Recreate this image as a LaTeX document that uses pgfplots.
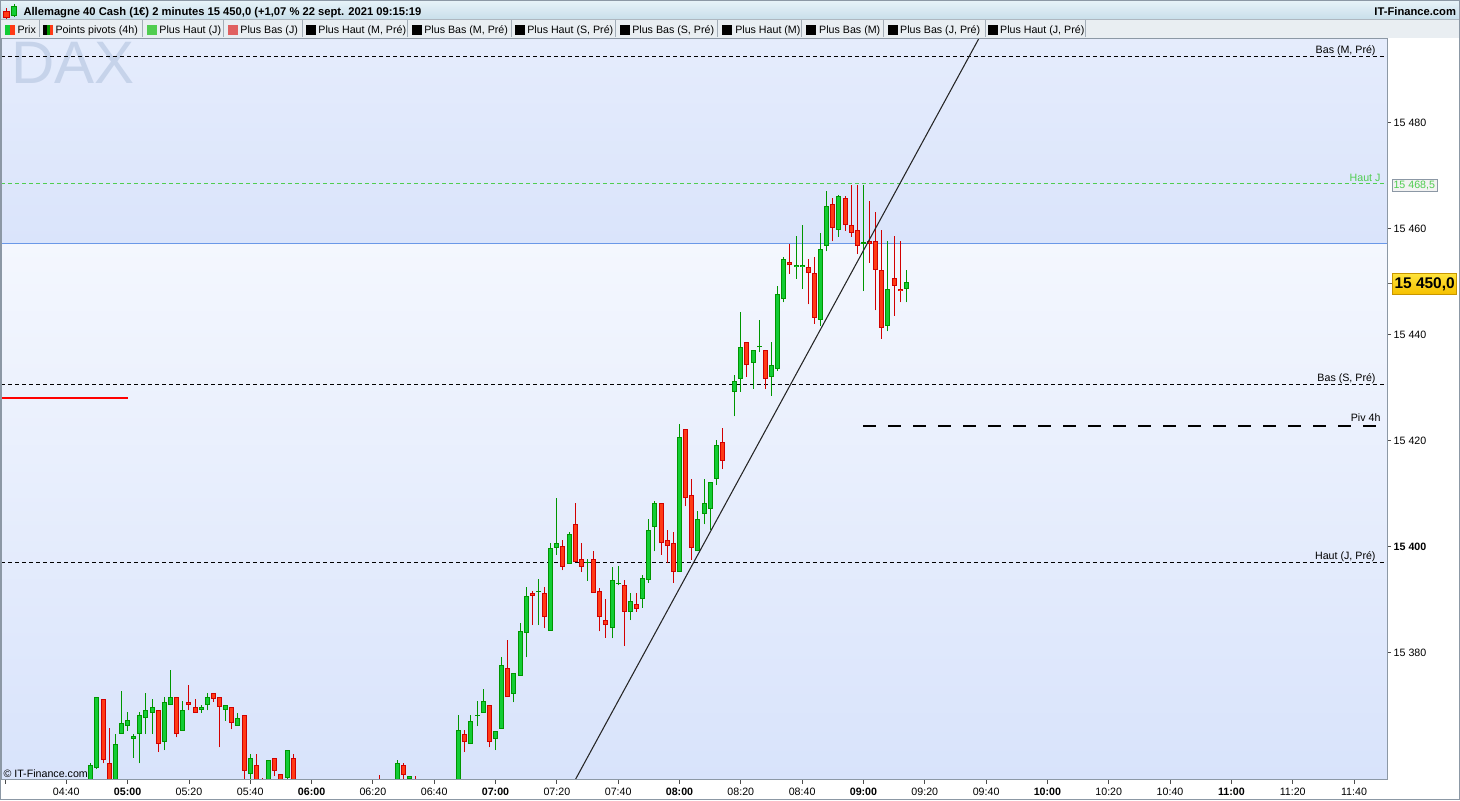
\documentclass[border=0pt]{standalone}
\usepackage{pgfplots}
\pgfplotsset{compat=1.18}
\usepackage{pgfplotstable}
\usepackage{fontspec}
\setmainfont{Liberation Sans}

\definecolor{upF}{RGB}{18,204,52}
\definecolor{upB}{RGB}{0,150,0}
\definecolor{dnF}{RGB}{255,58,22}
\definecolor{dnB}{RGB}{210,0,0}
\definecolor{hiA}{RGB}{229,236,252}
\definecolor{hiB}{RGB}{218,228,251}
\definecolor{loA}{RGB}{244,247,254}
\definecolor{loB}{RGB}{216,227,251}
\definecolor{blueLine}{RGB}{106,152,232}
\definecolor{hautJ}{RGB}{80,205,80}
\definecolor{basJ}{RGB}{224,96,96}
\definecolor{axGray}{RGB}{140,152,165}
\definecolor{hdrA}{RGB}{232,243,249}
\definecolor{hdrB}{RGB}{200,222,234}
\definecolor{lgBg}{RGB}{233,238,242}
\definecolor{dax}{RGB}{198,211,234}
\definecolor{tagA}{RGB}{255,228,60}
\definecolor{tagB}{RGB}{245,192,0}
\definecolor{tagD}{RGB}{200,150,0}

\newcommand\fs{\fontsize{8pt}{9.6pt}\selectfont}

% 2-minute candles, t = minutes after midnight
\pgfplotstableread{
t o h l c
288 15352.0 15359.2 15350.0 15358.7
290 15358.2 15371.7 15358.0 15371.7
296 15354.0 15364.7 15352.0 15362.8
298 15364.7 15372.8 15364.7 15366.7
300 15366.2 15368.7 15365.2 15367.2
302 15363.7 15364.7 15360.1 15364.2
304 15364.7 15368.7 15359.1 15368.2
306 15367.6 15372.3 15364.6 15369.2
308 15368.6 15371.3 15364.6 15369.8
312 15363.2 15371.7 15361.6 15370.7
314 15370.1 15376.8 15370.1 15371.7
318 15365.2 15370.8 15365.2 15369.2
324 15369.2 15370.1 15368.6 15369.8
326 15370.1 15372.3 15369.1 15371.7
332 15369.2 15370.1 15367.1 15370.1
336 15366.2 15368.6 15366.2 15367.7
340 15357.1 15360.8 15354.0 15360.1
346 15353.0 15359.8 15351.0 15359.8
352 15356.3 15361.6 15356.0 15361.6
388 15352.0 15359.8 15350.0 15359.2
392 15356.1 15356.7 15355.0 15356.7
408 15350.0 15368.3 15349.0 15365.3
412 15362.7 15368.3 15362.7 15367.1
414 15368.1 15370.8 15366.1 15368.3
416 15368.6 15373.2 15368.6 15370.8
420 15363.7 15365.2 15361.6 15365.2
422 15365.6 15379.2 15365.6 15377.7
426 15372.2 15376.2 15370.6 15376.2
428 15375.6 15385.6 15375.6 15384.1
430 15383.7 15392.3 15379.1 15390.7
434 15391.4 15393.8 15385.2 15391.6
438 15384.1 15400.7 15384.1 15399.8
440 15399.7 15409.2 15398.5 15400.7
444 15396.8 15402.8 15396.8 15402.3
450 15396.9 15397.7 15393.6 15397.1
458 15384.6 15396.2 15382.7 15393.7
460 15393.0 15396.3 15392.7 15393.2
464 15387.7 15391.3 15386.1 15389.8
468 15390.1 15394.7 15388.5 15394.1
470 15393.7 15405.3 15393.2 15403.2
472 15403.7 15408.7 15399.1 15408.2
480 15395.2 15423.2 15395.2 15420.7
486 15399.1 15406.8 15399.1 15405.2
488 15406.2 15412.8 15404.2 15408.2
490 15407.1 15412.2 15403.1 15412.2
492 15412.8 15420.1 15411.6 15419.2
498 15429.2 15432.3 15424.6 15431.3
500 15431.6 15444.3 15429.2 15437.7
504 15434.7 15437.1 15429.8 15437.1
506 15437.6 15442.8 15436.7 15437.8
510 15432.1 15438.6 15428.5 15434.3
512 15433.6 15449.1 15433.1 15447.7
514 15446.7 15454.7 15446.1 15454.3
518 15452.8 15458.6 15450.6 15453.2
520 15452.8 15460.7 15448.6 15453.2
526 15442.8 15459.2 15441.6 15456.2
528 15456.7 15467.1 15455.7 15464.3
532 15459.8 15466.4 15458.5 15466.2
540 15457.1 15468.3 15448.2 15457.4
548 15441.6 15457.7 15440.6 15448.7
554 15448.6 15452.3 15446.1 15450.0
}\up

\pgfplotstableread{
t o h l c
292 15371.3 15371.3 15359.1 15359.7
294 15359.2 15365.7 15352.0 15354.0
310 15369.2 15369.2 15361.2 15362.8
316 15371.7 15371.7 15364.0 15364.6
320 15370.7 15373.8 15369.1 15370.1
322 15369.8 15371.3 15368.6 15368.6
328 15372.3 15372.3 15370.7 15371.3
330 15371.7 15371.7 15362.1 15369.8
334 15369.8 15369.8 15365.5 15366.7
338 15368.2 15368.2 15355.0 15357.6
342 15358.7 15360.8 15351.0 15353.0
344 15354.0 15356.3 15350.0 15352.0
348 15360.1 15360.1 15356.7 15357.6
350 15357.1 15357.1 15352.0 15354.0
354 15360.1 15360.8 15351.0 15353.0
382 15354.0 15356.8 15350.0 15352.0
390 15358.7 15359.2 15356.0 15356.9
394 15356.2 15356.7 15353.0 15354.0
410 15364.7 15365.3 15361.2 15363.1
418 15370.1 15370.1 15362.1 15363.2
424 15377.1 15382.3 15371.6 15371.6
432 15391.3 15391.6 15385.2 15390.7
436 15391.3 15392.3 15384.6 15386.7
442 15400.1 15401.3 15395.5 15396.2
446 15404.3 15408.2 15397.1 15397.1
448 15397.7 15400.7 15395.2 15396.2
452 15397.7 15399.1 15391.3 15391.3
454 15391.6 15392.2 15384.0 15386.7
456 15386.2 15390.1 15382.8 15385.2
462 15392.8 15393.7 15381.2 15387.7
466 15389.2 15391.3 15387.7 15388.2
474 15408.2 15408.2 15398.5 15400.6
476 15401.3 15403.2 15396.9 15400.1
478 15400.7 15402.8 15393.2 15395.2
482 15422.2 15422.2 15407.6 15409.1
484 15409.7 15412.8 15397.5 15399.7
494 15419.8 15422.3 15414.6 15416.2
502 15438.6 15438.6 15432.1 15434.3
508 15437.1 15437.1 15429.8 15431.6
516 15453.7 15457.2 15451.5 15453.1
522 15452.8 15454.3 15445.7 15451.6
524 15451.6 15454.7 15442.1 15443.2
530 15464.7 15465.8 15457.6 15460.1
534 15465.8 15466.2 15459.6 15460.7
536 15460.7 15468.2 15458.5 15459.2
538 15459.8 15468.2 15455.2 15456.7
542 15457.7 15465.2 15453.6 15457.2
544 15457.7 15463.2 15444.6 15452.3
546 15452.3 15459.8 15439.2 15441.3
550 15450.7 15458.7 15443.6 15449.2
552 15448.7 15457.7 15446.1 15448.2
}\dn

\pgfplotsset{
  candlebar/.style 2 args={draw=none, no markers,
    error bars/y dir=plus, error bars/y explicit, error bars/error mark=none,
    error bars/error bar style={draw=#1, line width=#2}},
}

\begin{document}
\begin{tikzpicture}
\begin{scope}[x=0.75pt, y=-0.75pt, yshift=600pt]
\fill[white] (0,0) rectangle (1460,800);
% title bar and legend bar
\shade[top color=hdrA, bottom color=hdrB] (0,0) rectangle (1460,19.5);
\fill[lgBg] (0,19.5) rectangle (1460,38.5);
\draw[axGray!70] (0,19.5) -- (1460,19.5);
\end{scope}

\begin{axis}[
  at={(0.75pt,15pt)}, anchor=south west,
  width=1039.7pt, height=556.1pt, scale only axis,
  xmin=258.8, xmax=710.75, ymin=15356.0, ymax=15495.9,
  axis on top,
  axis line style={draw=axGray, line width=0.75pt},
  xtick={260,280,...,700},
  xticklabels={,04:40,\textbf{05:00},05:20,05:40,\textbf{06:00},06:20,06:40,\textbf{07:00},07:20,07:40,\textbf{08:00},08:20,08:40,\textbf{09:00},09:20,09:40,\textbf{10:00},10:20,10:40,\textbf{11:00},11:20,11:40},
  ytick={15380,15400,...,15480},
  yticklabels={15 380,\textbf{15 400},15 420,15 440,15 460,15 480},
  scaled y ticks=false, scaled x ticks=false,
  xtick pos=bottom, ytick pos=right, yticklabel pos=right,
  tick align=outside, major tick length=3pt,
  tick style={draw=black!70, line width=0.6pt},
  tick label style={font=\fs},
  yticklabel style={xshift=-1.5pt},
]
% background bands
\addplot[draw=none, top color=hiA, bottom color=hiB] coordinates {(258.8,15457.3) (258.8,15495.9) (710.75,15495.9) (710.75,15457.3)};
\addplot[draw=none, top color=loA, bottom color=loB] coordinates {(258.8,15356.0) (258.8,15457.3) (710.75,15457.3) (710.75,15356.0)};
\node[anchor=base west, inner sep=0, text=dax, font=\fontsize{45pt}{45pt}\selectfont] at (axis cs:262.1,15487.5) {DAX};

% horizontal levels
\addplot[blueLine, line width=0.75pt] coordinates {(258.8,15457.3) (710.75,15457.3)};
\addplot[black, line width=0.75pt, dash pattern=on 3pt off 2.25pt] coordinates {(258.8,15492.5) (710.75,15492.5)};
\addplot[hautJ, line width=0.75pt, dash pattern=on 3pt off 2.25pt] coordinates {(258.8,15468.5) (710.75,15468.5)};
\addplot[black, line width=0.75pt, dash pattern=on 3pt off 2.25pt] coordinates {(258.8,15430.6) (710.75,15430.6)};
\addplot[black, line width=0.75pt, dash pattern=on 3pt off 2.25pt] coordinates {(258.8,15397.0) (710.75,15397.0)};
\addplot[black, line width=1.6pt, dash pattern=on 9.75pt off 9pt] coordinates {(540,15422.8) (710.75,15422.8)};
\addplot[red, line width=1.5pt] coordinates {(258.8,15428.1) (300,15428.1)};

\node[anchor=base east, inner sep=0, font=\fs] at (axis cs:707.1,15493.0) {Bas (M, Pré)};
\node[anchor=base east, inner sep=0, font=\fs, text=hautJ] at (axis cs:708.7,15469.0) {Haut J};
\node[anchor=base east, inner sep=0, font=\fs] at (axis cs:707.1,15431.1) {Bas (S, Pré)};
\node[anchor=base east, inner sep=0, font=\fs] at (axis cs:708.7,15423.6) {Piv 4h};
\node[anchor=base east, inner sep=0, font=\fs] at (axis cs:707.1,15397.5) {Haut (J, Pré)};

% candles: wick, body outline, body fill
\addplot[candlebar={upB}{0.75pt}] table[x=t, y=l, y error plus expr=\thisrow{h}-\thisrow{l}] {\up};
\addplot[candlebar={dnB}{0.75pt}] table[x=t, y=l, y error plus expr=\thisrow{h}-\thisrow{l}] {\dn};
\addplot[candlebar={upB}{3.75pt}] table[x=t, y=o, y error plus expr={max(\thisrow{c}-\thisrow{o},0.19)}] {\up};
\addplot[candlebar={dnB}{3.75pt}] table[x=t, y=c, y error plus expr={max(\thisrow{o}-\thisrow{c},0.19)}] {\dn};
\addplot[candlebar={upF}{2.25pt}] table[x=t, y expr=\thisrow{o}+0.19, y error plus expr={max(\thisrow{c}-\thisrow{o}-0.38,0)}] {\up};
\addplot[candlebar={dnF}{2.25pt}] table[x=t, y expr=\thisrow{c}+0.19, y error plus expr={max(\thisrow{o}-\thisrow{c}-0.38,0)}] {\dn};

% trend line
\addplot[black!85, line width=0.8pt] coordinates {(440,15349.6) (580,15498.4)};
\end{axis}

\begin{scope}[x=0.75pt, y=-0.75pt, yshift=600pt]
% right-hand price tags
\draw[axGray, fill=black!5] (1392,179.3) rectangle (1437.3,191.3);
\node[anchor=west, inner sep=0, font=\fs, text=hautJ] at (1393.5,185.5) {15 468,5};
\draw[black!60] (1388,283.5) -- (1392,283.5);
\shade[top color=tagA, bottom color=tagB, draw=tagD] (1392.5,273.3) rectangle (1456.7,294.3);
\node[anchor=west, inner sep=0, font=\fontsize{11.6pt}{12pt}\selectfont\bfseries] at (1394.5,284) {15 450,0};

% header text
\fill[dnF, draw=dnB] (3.5,11) rectangle (9,17.3);
\draw[dnB] (6.3,8.3) -- (6.3,11) (6.3,17.3) -- (6.3,19);
\fill[upF, draw=upB] (11,6.7) rectangle (16.5,15);
\draw[upB] (13.8,4) -- (13.8,6.7) (13.8,15) -- (13.8,17.3);
\node[anchor=base west, inner sep=0, font=\fontsize{8.4pt}{10pt}\selectfont\bfseries] at (23,16) {Allemagne 40 Cash (1€) 2 minutes 15 450,0 (+1,07 \% 22 sept. 2021 09:15:19};
\node[anchor=base east, inner sep=0, font=\fontsize{8.4pt}{10pt}\selectfont\bfseries] at (1456.5,16) {IT-Finance.com};

% legend bar
\foreach \s in {39,142,223,302,407,510.7,615.7,717.7,801.7,883.3,985,1085}
  \draw[axGray!80] (\s,20.5) -- (\s,37.5);
\fill[upF] (5,25) rectangle (10,35);
\fill[dnF] (10,25) rectangle (15,35);
\fill[black] (43,25) rectangle (46.3,35);
\fill[upB] (46.3,25) rectangle (49.7,35);
\fill[dnF] (49.7,25) rectangle (53,35);
\fill[hautJ] (147,25) rectangle (157,35);
\fill[basJ] (228,25) rectangle (238,35);
\foreach \q in {306,412,515,620,722,806,888,988}
  \fill[black] (\q,25) rectangle ++(10,10);
\begin{scope}[every node/.style={anchor=base west, inner sep=0, font=\fs}]
\node at (17,33.5) {Prix};
\node at (55,33.5) {Points pivots (4h)};
\node at (159,33.5) {Plus Haut (J)};
\node at (240,33.5) {Plus Bas (J)};
\node at (318,33.5) {Plus Haut (M, Pré)};
\node at (424,33.5) {Plus Bas (M, Pré)};
\node at (527,33.5) {Plus Haut (S, Pré)};
\node at (632,33.5) {Plus Bas (S, Pré)};
\node at (735,33.5) {Plus Haut (M)};
\node at (819,33.5) {Plus Bas (M)};
\node at (900,33.5) {Plus Bas (J, Pré)};
\node at (1000,33.5) {Plus Haut (J, Pré)};
\end{scope}
\draw[axGray] (0,38.5) -- (1388,38.5);

\node[anchor=base west, inner sep=0, font=\fs] at (3,778) {© IT-Finance.com};
\draw[axGray] (0.4,0.4) rectangle (1459.6,799.6);
\end{scope}
\end{tikzpicture}
\end{document}
